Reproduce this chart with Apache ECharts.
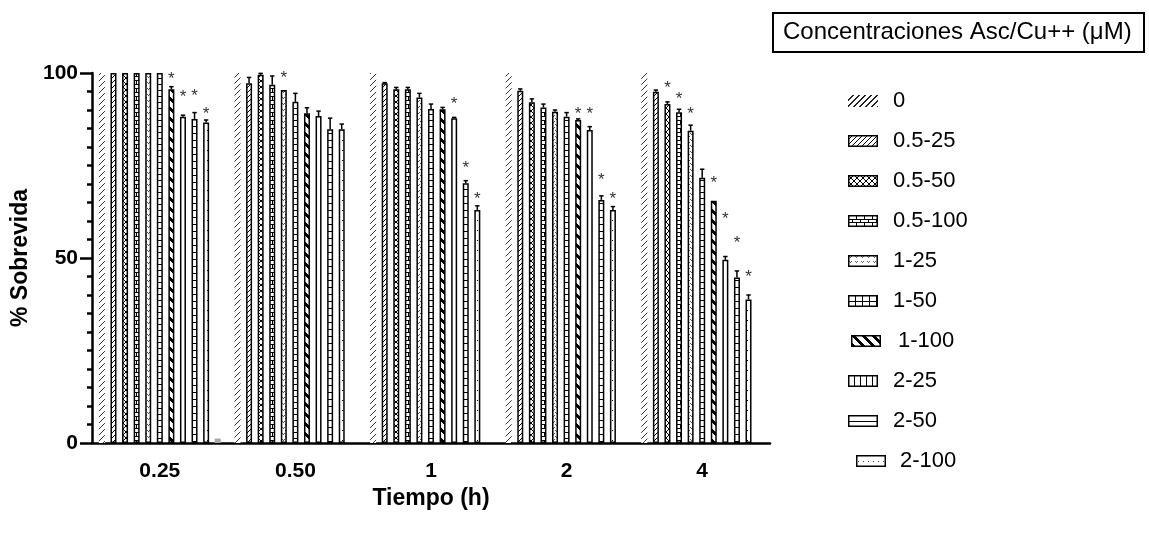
<!DOCTYPE html>
<html><head><meta charset="utf-8">
<script src="https://cdn.jsdelivr.net/npm/echarts@6/dist/echarts.min.js"></script>
<style>html,body{margin:0;padding:0;background:#fff}#c{width:1149px;height:533px}</style>
</head><body><div id="c"></div>
<script>
// ---------- DATA ----------
const categories = ['0.25', '0.50', '1', '2', '4'];
const seriesNames = ['0', '0.5-25', '0.5-50', '0.5-100', '1-25', '1-50', '1-100', '2-25', '2-50', '2-100'];
const yTicks = [0, 50, 100];

const surv_0      = [100, 100, 100, 100, 100];
const surv_05_25  = [100, 97.2, 97.2, 95.2, 94.9];
const surv_05_50  = [100, 99.5, 95.6, 92.1, 91.6];
const surv_05_100 = [100, 96.8, 95.6, 90.7, 89.4];
const surv_1_25   = [100, 95.4, 93.4, 89.5, 84.4];
const surv_1_50   = [100, 92.2, 90.3, 88.2, 71.7];
const surv_1_100  = [95.6, 89.1, 90.2, 87.3, 65.5];
const surv_2_25   = [88.2, 88.4, 87.8, 84.6, 49.5];
const surv_2_50   = [87.6, 84.8, 70.2, 65.7, 44.7];
const surv_2_100  = [86.6, 84.8, 63.0, 63.0, 38.8];
const surv_extra  = [1.2, null, null, null, null];

const sem_0      = [0, 0, 0, 0, 0];
const sem_05_25  = [0, 1.6, 0.2, 0.5, 0.5];
const sem_05_50  = [0, 0.4, 0.5, 0.9, 0.6];
const sem_05_100 = [0, 2.4, 0.5, 0.9, 0.8];
const sem_1_25   = [0, 0, 1.1, 0.5, 1.5];
const sem_1_50   = [0, 2.3, 1.3, 1.1, 2.3];
const sem_1_100  = [0.7, 1.5, 0.5, 0.3, 0];
const sem_2_25   = [0.4, 1.3, 0.2, 0.9, 0.9];
const sem_2_50   = [1.7, 3.0, 0.7, 1.1, 1.8];
const sem_2_100  = [0.7, 1.4, 1.1, 0.9, 1.2];

// height (in % units) at which the significance asterisk sits; null = none
const star_0      = [null, null, null, null, null];
const star_05_25  = [null, null, null, null, null];
const star_05_50  = [null, null, null, null, 97.0];
const star_05_100 = [null, null, null, null, 93.9];
const star_1_25   = [null, 99.7, null, null, 90.0];
const star_1_50   = [null, null, null, null, null];
const star_1_100  = [99.5, null, null, 90.0, 71.3];
const star_2_25   = [94.5, null, 92.5, 90.0, 61.6];
const star_2_50   = [94.8, null, 75.4, 72.2, 55.1];
const star_2_100  = [90.0, null, 67.0, 67.0, 45.9];

const survival = [surv_0, surv_05_25, surv_05_50, surv_05_100, surv_1_25, surv_1_50, surv_1_100, surv_2_25, surv_2_50, surv_2_100];
const sems = [sem_0, sem_05_25, sem_05_50, sem_05_100, sem_1_25, sem_1_50, sem_1_100, sem_2_25, sem_2_50, sem_2_100];
const stars = [star_0, star_05_25, star_05_50, star_05_100, star_1_25, star_1_50, star_1_100, star_2_25, star_2_50, star_2_100];

// ---------- STYLE ----------
const FONT = '"Liberation Sans", Arial, Helvetica, sans-serif';
const BAR_W = 6;
const BAR_GAP = 0.93;
const N_SLOTS = 11;

function tile(w, h, fn) {
  const c = document.createElement('canvas'); c.width = w; c.height = h;
  const g = c.getContext('2d'); g.fillStyle = '#fff'; g.fillRect(0, 0, w, h);
  for (let y = 0; y < h; y++) for (let x = 0; x < w; x++) {
    const col = fn(x, y);
    if (col) { g.fillStyle = col; g.fillRect(x, y, 1, 1); }
  }
  return c;
}
const mod = (a, n) => ((a % n) + n) % n;
const barTiles = [
  tile(6, 6, (x, y) => mod(x + y, 6) === 5 ? '#333' : null),
  tile(5, 5, (x, y) => mod(x + y, 5) === 4 ? '#000' : null),
  tile(6, 6, (x, y) => (mod(x + y, 6) === 5 || mod(x - y, 6) === 0) ? '#000' : null),
  tile(8, 8, (x, y) => (y === 0 || y === 4 || (x === 0 && y < 4) || (x === 4 && y > 4)) ? '#000' : null),
  tile(6, 6, (x, y) => ((x === 0 && y === 1) || (x === 1 && y === 2) || (x === 2 && y === 1) || (x === 3 && y === 4) || (x === 4 && y === 5) || (x === 5 && y === 4)) ? '#555' : null),
  tile(1, 6, (x, y) => y === 0 ? '#000' : null),
  tile(10, 10, (x, y) => mod(x - y, 10) < 4 ? '#000' : null),
  tile(1, 1, () => null),
  tile(1, 7, (x, y) => y === 0 ? '#000' : null),
  tile(5, 10, (x, y) => (x === 2 && y === 0) ? '#000' : null)
];

// legend swatches (30x12 box inside a 40x12 icon)
function legendIcon(i) {
  const W = 40, H = 12, sw = 30, sh = 12;
  const ox = i === 6 ? 3 : (i === 9 ? 8 : 0);
  const c = document.createElement('canvas'); c.width = W; c.height = H;
  const g = c.getContext('2d');
  const inner = [
    (x, y) => (mod(x + y, 6) === 5 || mod(x + y, 6) === 4) ? '#222' : null,
    (x, y) => mod(x + y, 5) === 4 ? '#000' : null,
    (x, y) => (mod(x + y, 6) === 5 || mod(x - y, 6) === 0) ? '#000' : null,
    (x, y) => (y === 4 || y === 7 || (mod(x, 8) === 0 && y < 4) || (mod(x, 8) === 4 && y > 4 && y < 7) || (mod(x, 8) === 0 && y > 7)) ? '#000' : null,
    (x, y) => { const a = mod(x, 6), b = mod(y, 5); return ((a === 1 && b === 1) || (a === 2 && b === 2) || (a === 3 && b === 1)) ? '#666' : null; },
    (x, y) => (y === 6 || mod(x, 7) === 0) ? '#000' : null,
    (x, y) => mod(x - y, 10) < 4 ? '#000' : null,
    (x, y) => mod(x, 6) === 0 ? '#000' : null,
    (x, y) => y === 6 ? '#000' : null,
    (x, y) => (y === 6 && mod(x, 5) === 2) ? '#444' : null
  ][i];
  g.fillStyle = i === 0 ? 'rgba(0,0,0,0)' : '#fff';
  g.fillRect(ox, 0, sw, sh);
  for (let y = 0; y < sh; y++) for (let x = 0; x < sw; x++) {
    const col = inner(x, y);
    if (col) { g.fillStyle = col; g.fillRect(ox + x, y, 1, 1); }
  }
  if (i !== 0) {
    g.strokeStyle = '#000'; g.lineWidth = 1.5;
    g.strokeRect(ox + 0.75, 0.75, sw - 1.5, sh - 1.5);
  }
  return c;
}

// overlay data: [catIndex, slotIndex, value, sem, starHeight]
const overlayData = [];
survival.forEach((arr, s) => arr.forEach((v, k) => {
  overlayData.push([k, s, v, sems[s][k], stars[s][k] == null ? -1 : stars[s][k]]);
}));

function renderOverlay(params, api) {
  const cat = api.value(0), s = api.value(1), val = api.value(2), err = api.value(3), star = api.value(4);
  const c0 = api.coord([cat, 0]);
  const step = BAR_W * (1 + BAR_GAP);
  const x = c0[0] + (s - (N_SLOTS - 1) / 2) * step;
  const children = [];
  if (err > 0) {
    const yTop = api.coord([cat, val])[1], yErr = api.coord([cat, val + err])[1];
    children.push({ type: 'line', shape: { x1: x, y1: yTop, x2: x, y2: yErr }, style: { stroke: '#000', lineWidth: 1.5 } });
    children.push({ type: 'line', shape: { x1: x - 2.2, y1: yErr, x2: x + 2.2, y2: yErr }, style: { stroke: '#000', lineWidth: 1.5 } });
  }
  if (star > 0) {
    const ys = api.coord([cat, star])[1];
    children.push({ type: 'text', style: { text: '*', x: x, y: ys + 4, align: 'center', verticalAlign: 'middle', fontSize: 17, fontFamily: FONT, fill: '#333' } });
  }
  return { type: 'group', children };
}

const barSeries = seriesNames.map((n, i) => ({
  type: 'bar', name: n, data: survival[i],
  barWidth: BAR_W, barGap: Math.round(BAR_GAP * 100) + '%',
  itemStyle: { color: { image: barTiles[i], repeat: 'repeat' }, borderColor: '#000', borderWidth: i === 0 ? 0 : 1.5 },
  emphasis: { disabled: true }, silent: true
}));
barSeries.push({
  type: 'bar', name: 'extra', data: surv_extra, barWidth: BAR_W, barGap: Math.round(BAR_GAP * 100) + '%',
  itemStyle: { color: '#a8a8a8' }, emphasis: { disabled: true }, silent: true
});
barSeries.push({
  type: 'custom', name: 'overlay', renderItem: renderOverlay, data: overlayData,
  encode: { x: 0, y: 2 }, z: 5, silent: true, clip: false
});

const legendData = seriesNames.map((n, i) => {
  const d = { name: n, icon: 'image://' + legendIcon(i).toDataURL() };
  if (i === 6) d.textStyle = { padding: [0, 0, 0, 5] };
  if (i === 9) d.textStyle = { padding: [0, 0, 0, 7] };
  return d;
});

const chart = echarts.init(document.getElementById('c'), null, { renderer: 'canvas' });
chart.setOption({
  animation: false,
  backgroundColor: '#fff',
  textStyle: { fontFamily: FONT },
  title: {
    text: 'Concentraciones Asc/Cu++ (\u03bcM)', left: 773, top: 13, padding: [7, 13, 8, 10],
    borderColor: '#000', borderWidth: 2,
    textStyle: { fontSize: 24, fontWeight: 'normal', color: '#000', fontFamily: FONT }
  },
  legend: {
    orient: 'vertical', left: 843, top: 85, itemWidth: 40, itemHeight: 12, itemGap: 18,
    selectedMode: false,
    textStyle: { fontSize: 22, lineHeight: 22, color: '#000', fontFamily: FONT },
    data: legendData
  },
  grid: { left: 92, right: 379, top: 73, bottom: 90, containLabel: false },
  xAxis: {
    type: 'category', data: categories,
    axisLine: { lineStyle: { color: '#000', width: 2.5 } },
    axisTick: { alignWithLabel: true, length: 10, lineStyle: { color: '#000', width: 2.5 } },
    axisLabel: { fontSize: 21, fontWeight: 'bold', color: '#000', margin: 18, fontFamily: FONT },
    name: 'Tiempo (h)', nameLocation: 'middle', nameGap: 37,
    nameTextStyle: { fontSize: 23, fontWeight: 'bold', color: '#000', fontFamily: FONT }
  },
  yAxis: {
    type: 'value', min: yTicks[0], max: yTicks[yTicks.length - 1], interval: yTicks[1] - yTicks[0],
    axisLine: { show: true, lineStyle: { color: '#000', width: 2.5 } },
    axisTick: { show: true, length: 12, lineStyle: { color: '#000', width: 2.5 } },
    minorTick: { show: true, splitNumber: 10, length: 5, lineStyle: { color: '#000', width: 2.5 } },
    splitLine: { show: false },
    axisLabel: { fontSize: 21, fontWeight: 'bold', color: '#000', margin: 14, fontFamily: FONT },
    name: '% Sobrevida', nameLocation: 'middle', nameGap: 52,
    nameTextStyle: { fontSize: 23, fontWeight: 'bold', color: '#000', fontFamily: FONT }
  },
  series: barSeries
});
</script>
</body></html>
